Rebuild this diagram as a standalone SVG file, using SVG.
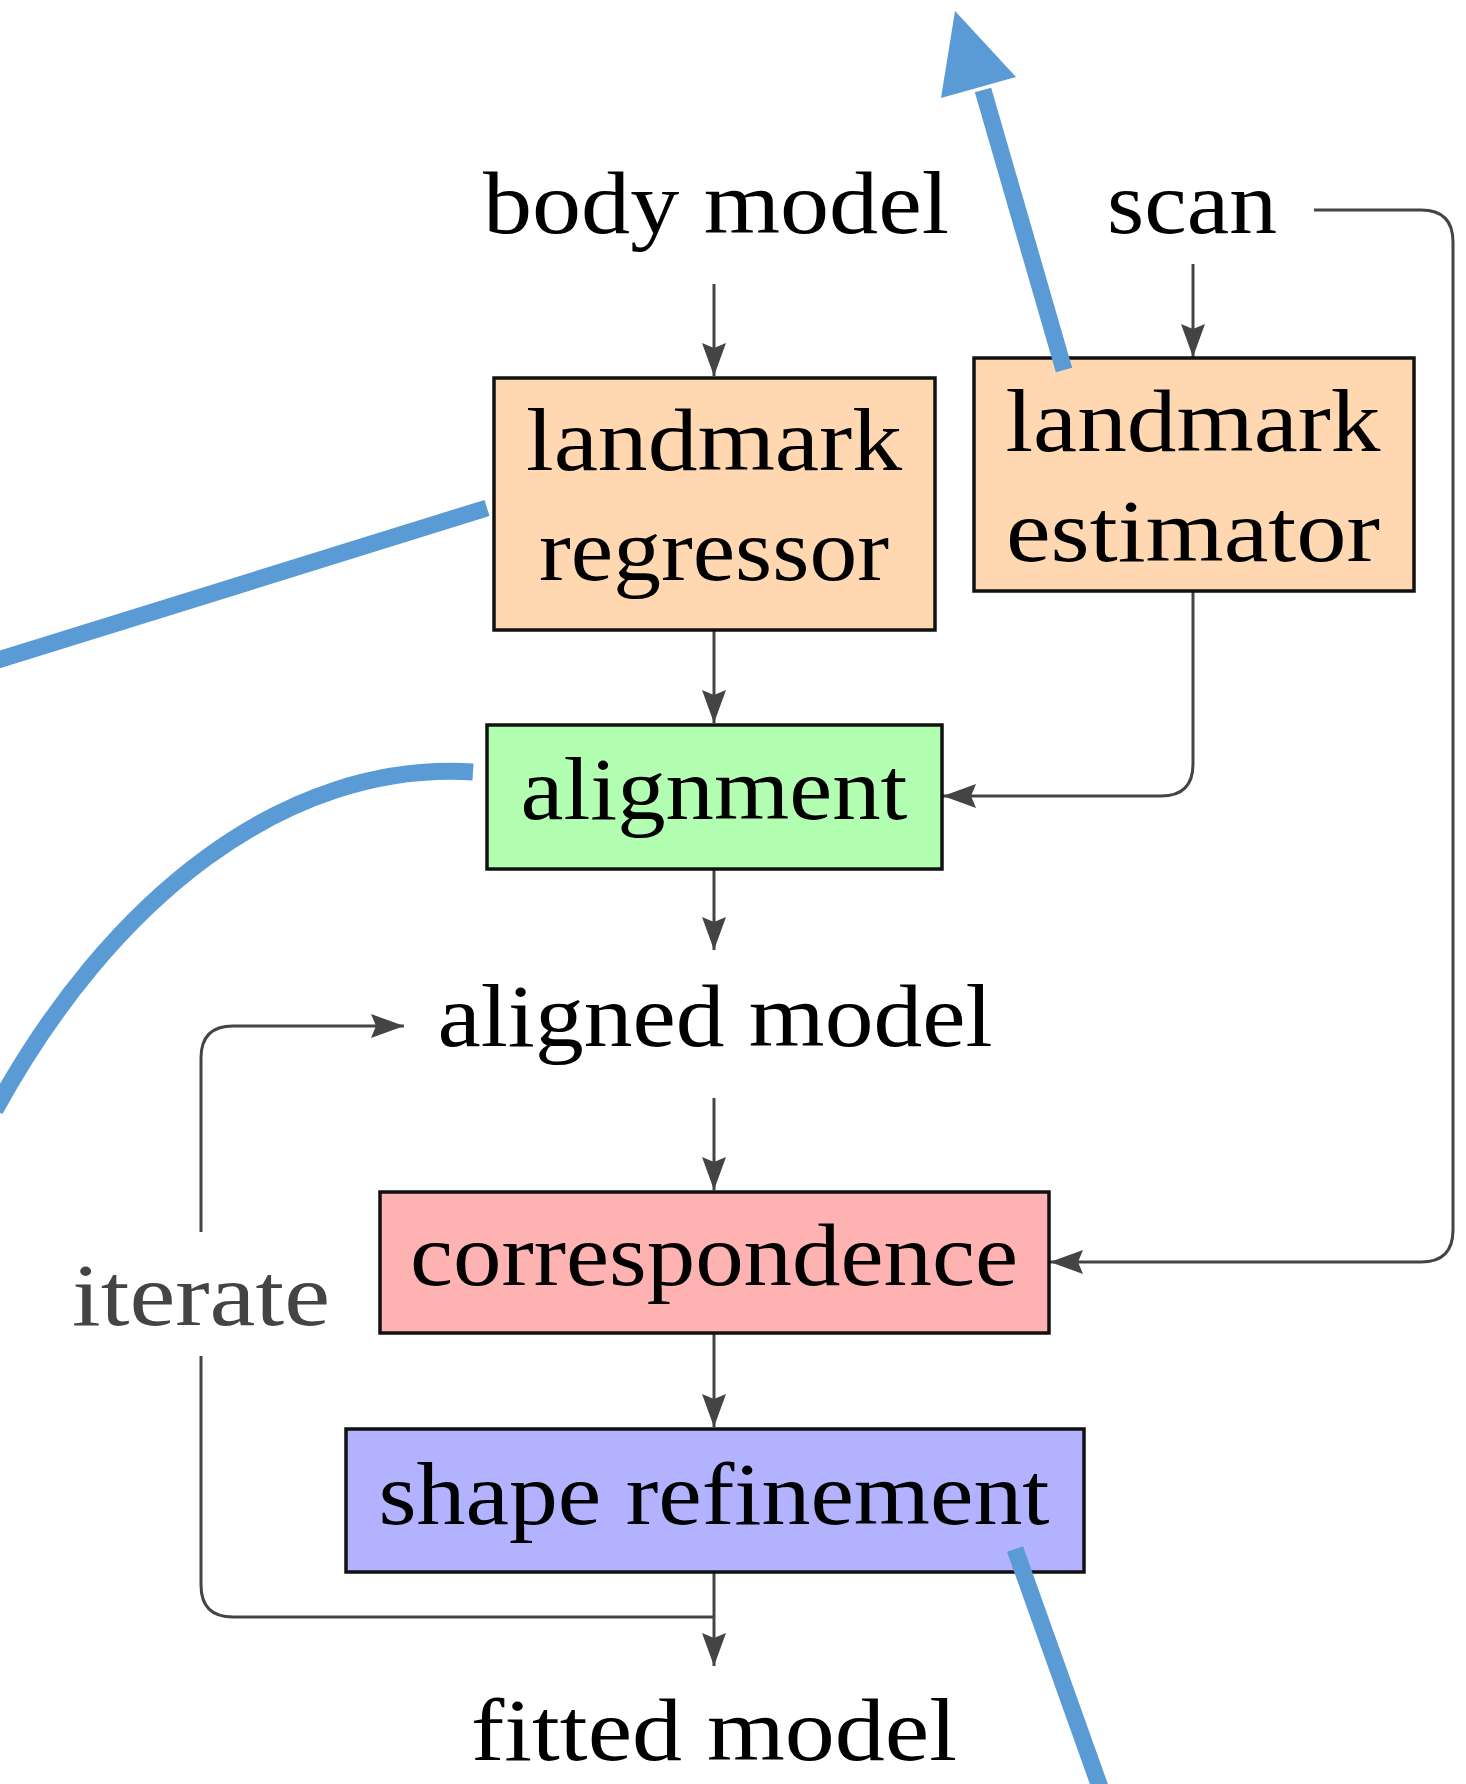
<svg xmlns="http://www.w3.org/2000/svg" width="1466" height="1784" viewBox="0 0 1466 1784">
<style>
.box{stroke:#111;stroke-width:3.5}
.t{font-family:"Liberation Serif","Times New Roman",serif;font-size:88px;fill:#000;text-anchor:middle}
.g{fill:#444}
.c{fill:none;stroke:#444;stroke-width:3}
.b{fill:none;stroke:#5b9bd5;stroke-width:17}
</style>
<defs>
<marker id="ah" markerUnits="userSpaceOnUse" markerWidth="34" markerHeight="26" refX="33" refY="12" orient="auto">
<path d="M0,0 L33,12 L0,24 L5,12 z" fill="#444"/>
</marker>
</defs>
<rect width="1466" height="1784" fill="#fff"/>
<g id="connectors">
<path class="c" marker-end="url(#ah)" d="M714 284 V376"/>
<path class="c" marker-end="url(#ah)" d="M1193 264 V357"/>
<path class="c" marker-end="url(#ah)" d="M714 631 V723"/>
<path class="c" marker-end="url(#ah)" d="M1193 592 V764 Q1193 796 1161 796 H943"/>
<path class="c" marker-end="url(#ah)" d="M714 870 V950"/>
<path class="c" marker-end="url(#ah)" d="M714 1098 V1190"/>
<path class="c" marker-end="url(#ah)" d="M1314 210 H1421 Q1453 210 1453 242 V1230 Q1453 1262 1421 1262 H1050"/>
<path class="c" marker-end="url(#ah)" d="M714 1334 V1427"/>
<path class="c" marker-end="url(#ah)" d="M714 1573 V1666"/>
<path class="c" d="M714 1617 H233 Q201 1617 201 1585 V1356"/>
<path class="c" marker-end="url(#ah)" d="M201 1232 V1058 Q201 1026 233 1026 H404"/>
</g>
<g id="body-model"><text class="t" x="716" y="233" textLength="466" lengthAdjust="spacingAndGlyphs">body model</text></g>
<g id="scan"><text class="t" x="1192" y="233" textLength="170" lengthAdjust="spacingAndGlyphs">scan</text></g>
<g id="landmark-regressor">
<rect class="box" x="494" y="378" width="441" height="252" fill="#ffd8b2"/>
<text class="t" x="714" y="470" textLength="376" lengthAdjust="spacingAndGlyphs">landmark</text>
<text class="t" x="714" y="580" textLength="350" lengthAdjust="spacingAndGlyphs">regressor</text>
</g>
<g id="landmark-estimator">
<rect class="box" x="974" y="358" width="440" height="233" fill="#ffd8b2"/>
<text class="t" x="1193" y="451" textLength="375" lengthAdjust="spacingAndGlyphs">landmark</text>
<text class="t" x="1193" y="561" textLength="374" lengthAdjust="spacingAndGlyphs">estimator</text>
</g>
<g id="alignment">
<rect class="box" x="487" y="725" width="455" height="144" fill="#b2ffb2"/>
<text class="t" x="714" y="819" textLength="387" lengthAdjust="spacingAndGlyphs">alignment</text>
</g>
<g id="aligned-model"><text class="t" x="715" y="1046" textLength="555" lengthAdjust="spacingAndGlyphs">aligned model</text></g>
<g id="correspondence">
<rect class="box" x="380" y="1192" width="669" height="141" fill="#ffb2b2"/>
<text class="t" x="714" y="1285" textLength="608" lengthAdjust="spacingAndGlyphs">correspondence</text>
</g>
<g id="iterate"><text class="t g" x="201" y="1325" textLength="258" lengthAdjust="spacingAndGlyphs">iterate</text></g>
<g id="shape-refinement">
<rect class="box" x="346" y="1429" width="738" height="143" fill="#b2b2ff"/>
<text class="t" x="714" y="1524" textLength="671" lengthAdjust="spacingAndGlyphs">shape refinement</text>
</g>
<g id="fitted-model"><text class="t" x="714" y="1760" textLength="486" lengthAdjust="spacingAndGlyphs">fitted model</text></g>
<g id="annotations">
<path class="b" d="M1064 370 L983 90"/>
<path d="M955 11 L941 98 L1016 77 z" fill="#5b9bd5"/>
<path class="b" d="M487 508 L-5 661"/>
<path class="b" d="M473 772 C284 760 110 900 -5 1110"/>
<path class="b" d="M1015 1549 L1101 1790"/>
</g>
</svg>
